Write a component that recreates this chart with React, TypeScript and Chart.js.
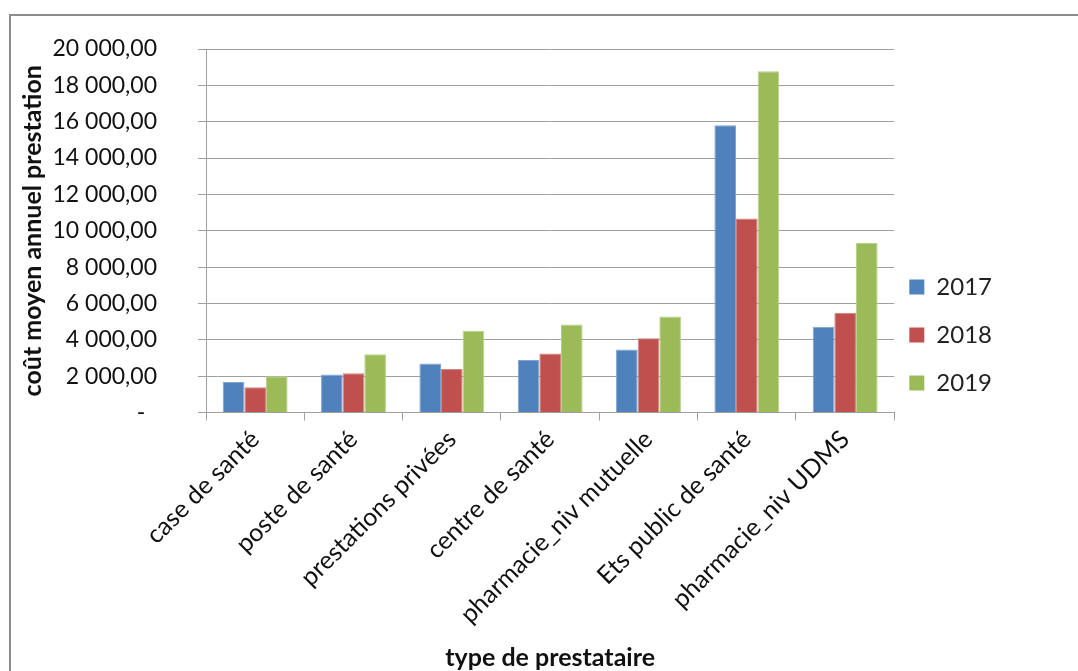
import React, { useEffect, useRef } from "react";
import { Chart, registerables } from "chart.js";

Chart.register(...registerables);

const categories = [
  "case de santé",
  "poste de santé",
  "prestations privées",
  "centre de santé",
  "pharmacie_niv mutuelle",
  "Ets public de santé",
  "pharmacie_niv UDMS",
];
const seriesNames = ["2017", "2018", "2019"];
const values2017 = [1680, 2090, 2690, 2890, 3470, 15810, 4720];
const values2018 = [1390, 2160, 2400, 3250, 4080, 10680, 5490];
const values2019 = [1990, 3200, 4500, 4840, 5280, 18770, 9330];
const yMin = 0;
const yMax = 20000;
const yStep = 2000;
const yTitle = "coût moyen annuel prestation";
const xTitle = "type de prestataire";

const FONT = "Lato, 'Open Sans', sans-serif";

function formatTick(v: number): string {
  if (v === 0) return "-  ";
  const th = Math.floor(v / 1000);
  const rest = String(v % 1000).padStart(3, "0");
  return `${th} ${rest},00`;
}

export default function App() {
  const ref = useRef<HTMLCanvasElement | null>(null);
  useEffect(() => {
    if (!ref.current) return;
    const colors = ["#4F81BD", "#C0504D", "#9BBB59"];
    const borders = ["#7FA3D0", "#D28381", "#B8D08A"];
    const all = [values2017, values2018, values2019];
    const chart = new Chart(ref.current, {
      type: "bar",
      data: {
        labels: categories,
        datasets: all.map((d, i) => ({
          label: seriesNames[i],
          data: d,
          backgroundColor: colors[i],
          borderColor: borders[i],
          borderWidth: 1,
          barPercentage: 1,
          categoryPercentage: 0.66,
        })),
      },
      options: {
        animation: false,
        responsive: false,
        maintainAspectRatio: false,
        layout: { padding: { left: 0, top: 49, right: 76, bottom: 0 } },
        plugins: {
          tooltip: { enabled: false },
          legend: {
            position: "right",
            align: "start",
            title: {
              display: true,
              text: "",
              font: { size: 10 },
              padding: { top: 199, bottom: 0 },
            },
            labels: {
              boxWidth: 15,
              boxHeight: 15,
              padding: 15,
              color: "#222",
              font: { family: FONT, size: 24, lineHeight: "33px" } as any,
              generateLabels: (c: any) =>
                c.data.datasets.map((ds: any, i: number) => ({
                  text: [ds.label],
                  fillStyle: ds.backgroundColor,
                  strokeStyle: ds.backgroundColor,
                  lineWidth: 0,
                  hidden: false,
                  datasetIndex: i,
                  fontColor: "#222",
                })),
            },
          },
        },
        scales: {
          x: {
            offset: true,
            grid: {
              offset: true,
              drawOnChartArea: false,
              drawTicks: true,
              tickLength: 8,
              color: "#A0A0A0",
            },
            border: { display: true, color: "#A0A0A0", width: 1 },
            ticks: {
              minRotation: 45,
              maxRotation: 45,
              padding: 4,
              color: "#111",
              font: { family: FONT, size: 25 },
            },
            title: {
              display: true,
              text: xTitle,
              color: "#111",
              font: { family: FONT, size: 25, weight: "bold" },
              padding: { top: 0, bottom: -2 },
            },
            afterFit: (s: any) => {
              s.height = 258.5;
            },
          },
          y: {
            min: yMin,
            max: yMax,
            grid: {
              color: "#A0A0A0",
              drawTicks: true,
              tickLength: 8,
            },
            border: { display: true, color: "#A0A0A0", width: 1 },
            ticks: {
              stepSize: yStep,
              padding: 41,
              color: "#111",
              font: { family: FONT, size: 23 },
              callback: (v: any) => formatTick(Number(v)),
            },
            title: {
              display: true,
              text: yTitle,
              color: "#111",
              font: { family: FONT, size: 25, weight: "bold" },
              padding: { top: 18, bottom: 0 },
            },
            afterFit: (s: any) => {
              s.width = 206;
              s.paddingTop = 0;
              s.paddingBottom = 0;
            },
          },
        },
      },
    });
    return () => chart.destroy();
  }, []);

  return (
    <>
      <canvas
        ref={ref}
        width={1078}
        height={671}
        style={{ position: "fixed", left: 0, top: 0, width: 1078, height: 671, background: "#fff" }}
      />
      <div
        style={{
          position: "fixed",
          left: 9,
          top: 14,
          width: 1100,
          height: 700,
          border: "2px solid #8C8C8C",
          pointerEvents: "none",
        }}
      />
    </>
  );
}
